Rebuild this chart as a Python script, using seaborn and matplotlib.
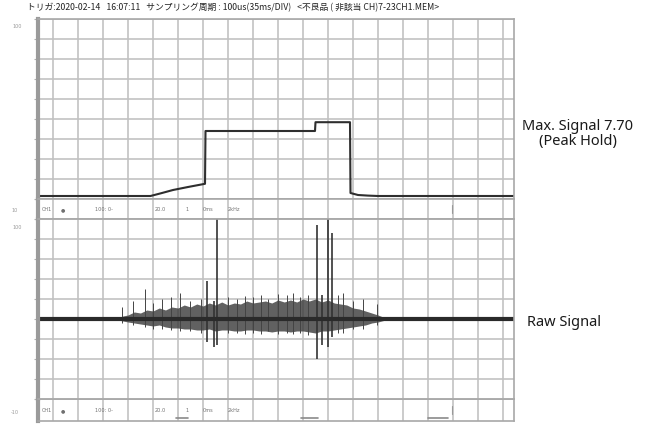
import matplotlib
matplotlib.use("Agg")
import matplotlib.pyplot as plt
import seaborn as sns

sns.set_theme(style="white")
plt.rcParams['font.family'] = ['Noto Sans CJK JP', 'DejaVu Sans']

# --- data (time in divisions of 35 ms, amplitude in screen divisions) ---
header = "トリガ:2020-02-14   16:07:11   サンプリング周期 : 100us(35ms/DIV)   <不良品 ( 非該当 CH)7-23CH1.MEM>"

# peak hold trace (top panel)
peak_t = [-0.6, 3.9, 4.3, 4.8, 5.4, 6.08, 6.1, 10.48, 10.5, 11.88, 11.9, 12.2, 12.6, 13.0, 18.44]
peak_v = [0.15, 0.15, 0.28, 0.45, 0.6, 0.76, 3.4, 3.4, 3.84, 3.84, 0.3, 0.2, 0.17, 0.15, 0.15]

# raw signal noise envelope (bottom panel)
env_t = [2.6, 2.8, 3.0, 3.25, 3.5, 3.75, 4.0, 4.25, 4.5, 4.75, 5.0, 5.25, 5.5, 5.75,
         6.0, 6.25, 6.5, 6.75, 7.0, 7.25, 7.5, 7.75, 8.0, 8.25, 8.5, 8.75, 9.0, 9.25,
         9.5, 9.75, 10.0, 10.25, 10.5, 10.75, 11.0, 11.25, 11.5, 11.75, 12.0, 12.25,
         12.5, 12.75, 13.0, 13.3]
env_hi = [0.05, 0.15, 0.2, 0.35, 0.3, 0.45, 0.4, 0.55, 0.45, 0.6, 0.55, 0.7, 0.6, 0.75,
          0.65, 0.8, 0.7, 0.85, 0.7, 0.8, 0.75, 0.9, 0.8, 0.85, 0.9, 0.8, 0.95, 0.85,
          0.95, 0.85, 1.0, 0.9, 1.0, 0.85, 0.95, 0.8, 0.75, 0.7, 0.55, 0.5, 0.4, 0.3,
          0.2, 0.05]
env_lo = [-0.05, -0.1, -0.15, -0.2, -0.25, -0.3, -0.35, -0.3, -0.4, -0.45, -0.45, -0.5,
          -0.5, -0.55, -0.55, -0.5, -0.6, -0.55, -0.55, -0.6, -0.6, -0.55, -0.55, -0.6,
          -0.6, -0.65, -0.6, -0.6, -0.65, -0.6, -0.6, -0.65, -0.7, -0.6, -0.6, -0.55,
          -0.5, -0.45, -0.4, -0.35, -0.3, -0.2, -0.15, -0.05]

# big spikes
spike_t = [6.16, 6.56, 6.45, 10.55, 10.98, 11.15, 10.75]
spike_top = [1.9, 5.0, 0.9, 4.7, 5.0, 4.3, 1.2]
spike_bot = [-1.15, -1.3, -1.4, -2.0, -1.4, -0.9, -1.3]

# small hair spikes inside the noise band
hair_t = [2.76, 3.2, 3.68, 4.0, 4.36, 4.7, 5.08, 5.5, 5.9, 7.0, 7.36, 7.7, 8.0, 8.3,
          8.6, 9.0, 9.36, 9.6, 9.88, 10.2, 11.4, 11.6, 12.0, 12.4, 12.96]
hair_top = [0.6, 0.9, 1.5, 0.8, 1.0, 1.1, 1.3, 0.9, 1.0, 1.1, 1.0, 1.15, 1.1, 1.2,
            1.0, 1.25, 1.2, 1.3, 1.1, 1.2, 1.2, 1.3, 0.9, 1.0, 0.75]
hair_bot = [-0.2, -0.3, -0.4, -0.5, -0.5, -0.55, -0.6, -0.6, -0.7, -0.7, -0.7, -0.75,
            -0.7, -0.75, -0.6, -0.75, -0.7, -0.75, -0.7, -0.8, -0.7, -0.7, -0.5, -0.5, -0.3]

# blurry labels on the scope's status strip
strip_labels = ["CH1", "●", "100: 0-", "20.0", "1", "0ms", "2kHz"]
strip_label_t = [-0.44, 0.3, 1.68, 4.08, 5.32, 6.0, 7.0]

W, H = 648, 427
fig = plt.figure(figsize=(W / 100, H / 100), dpi=100)


def px_axes(l, t, r, b):
    return fig.add_axes([l / W, 1 - b / H, (r - l) / W, (b - t) / H])


XL, XR = -0.6, 18.44
grid_c = "#c2c2c2"


def style(ax, ylo, yhi, yticks):
    ax.set_xlim(XL, XR)
    ax.set_ylim(ylo, yhi)
    ax.set_xticks(range(0, 19))
    ax.set_yticks(yticks)
    ax.grid(True, color=grid_c, lw=1.2)
    ax.tick_params(axis="x", length=0, labelbottom=False)
    ax.tick_params(axis="y", direction="out", length=3, width=0.8, color="#b0b0b0",
                   left=True, labelleft=False)
    for s in ax.spines.values():
        s.set_color("#a8a8a8")
        s.set_linewidth(1.2)
    ax.spines["left"].set_linewidth(3)
    ax.spines["left"].set_color("#9a9a9a")
    ax.set_xlabel("")
    ax.set_ylabel("")


# top panel: peak hold
ax1 = px_axes(38, 20, 514, 200)
style(ax1, 0, 9, range(0, 10))
sns.lineplot(x=peak_t, y=peak_v, ax=ax1, color="#2e2e2e", lw=1.5, sort=False, estimator=None)

# status strips
strips = [px_axes(38, 200, 514, 220), px_axes(38, 400, 514, 422)]
for sx in strips:
    style(sx, 0, 1, [])
    for lab, t in zip(strip_labels, strip_label_t):
        sx.text(t, 0.5, lab, fontsize=3.6, color="#707070", va="center", ha="left",
                family=["DejaVu Sans"])
    sx.plot([15.95, 15.95], [0.3, 0.7], color="#999999", lw=0.8)
strips[1].plot([4.9, 5.4], [0.12, 0.12], color="#8a8a8a", lw=1.2)
strips[1].plot([9.9, 10.6], [0.12, 0.12], color="#8a8a8a", lw=1.2)
strips[1].plot([15.0, 15.8], [0.12, 0.12], color="#8a8a8a", lw=1.2)

# bottom panel: raw signal
ax2 = px_axes(38, 220, 514, 400)
style(ax2, -4, 5, range(-4, 6))
ax2.fill_between(env_t, env_lo, env_hi, color="#3a3a3a", lw=0, alpha=0.8)
ax2.vlines(hair_t, hair_bot, hair_top, color="#444444", lw=0.7)
ax2.vlines(spike_t, spike_bot, spike_top, color="#333333", lw=1.2)
sns.lineplot(x=[XL, XR], y=[0, 0], ax=ax2, color="#2a2a2a", lw=3)

# faint scale numbers at the left
for (x, y, s) in [(17, 27, "100"), (15, 211, "10"), (17, 228, "100"), (15, 413, "-10")]:
    fig.text(x / W, 1 - y / H, s, fontsize=3.5, color="#9a9a9a", ha="center", va="center",
             family=["DejaVu Sans"])

# header and annotations
fig.text(27 / W, 1 - 8 / H, header, fontsize=6.3, color="#222222", ha="left", va="center")
fig.text(578 / W, 1 - 127 / H, "Max. Signal 7.70", fontsize=10.5, color="#1a1a1a",
         ha="center", va="center", family=["Noto Sans", "DejaVu Sans"])
fig.text(578 / W, 1 - 142 / H, "(Peak Hold)", fontsize=10.5, color="#1a1a1a",
         ha="center", va="center", family=["Noto Sans", "DejaVu Sans"])
fig.text(527 / W, 1 - 323 / H, "Raw Signal", fontsize=10.5, color="#1a1a1a",
         ha="left", va="center", family=["Noto Sans", "DejaVu Sans"])

fig.savefig("out.png", dpi=100)
